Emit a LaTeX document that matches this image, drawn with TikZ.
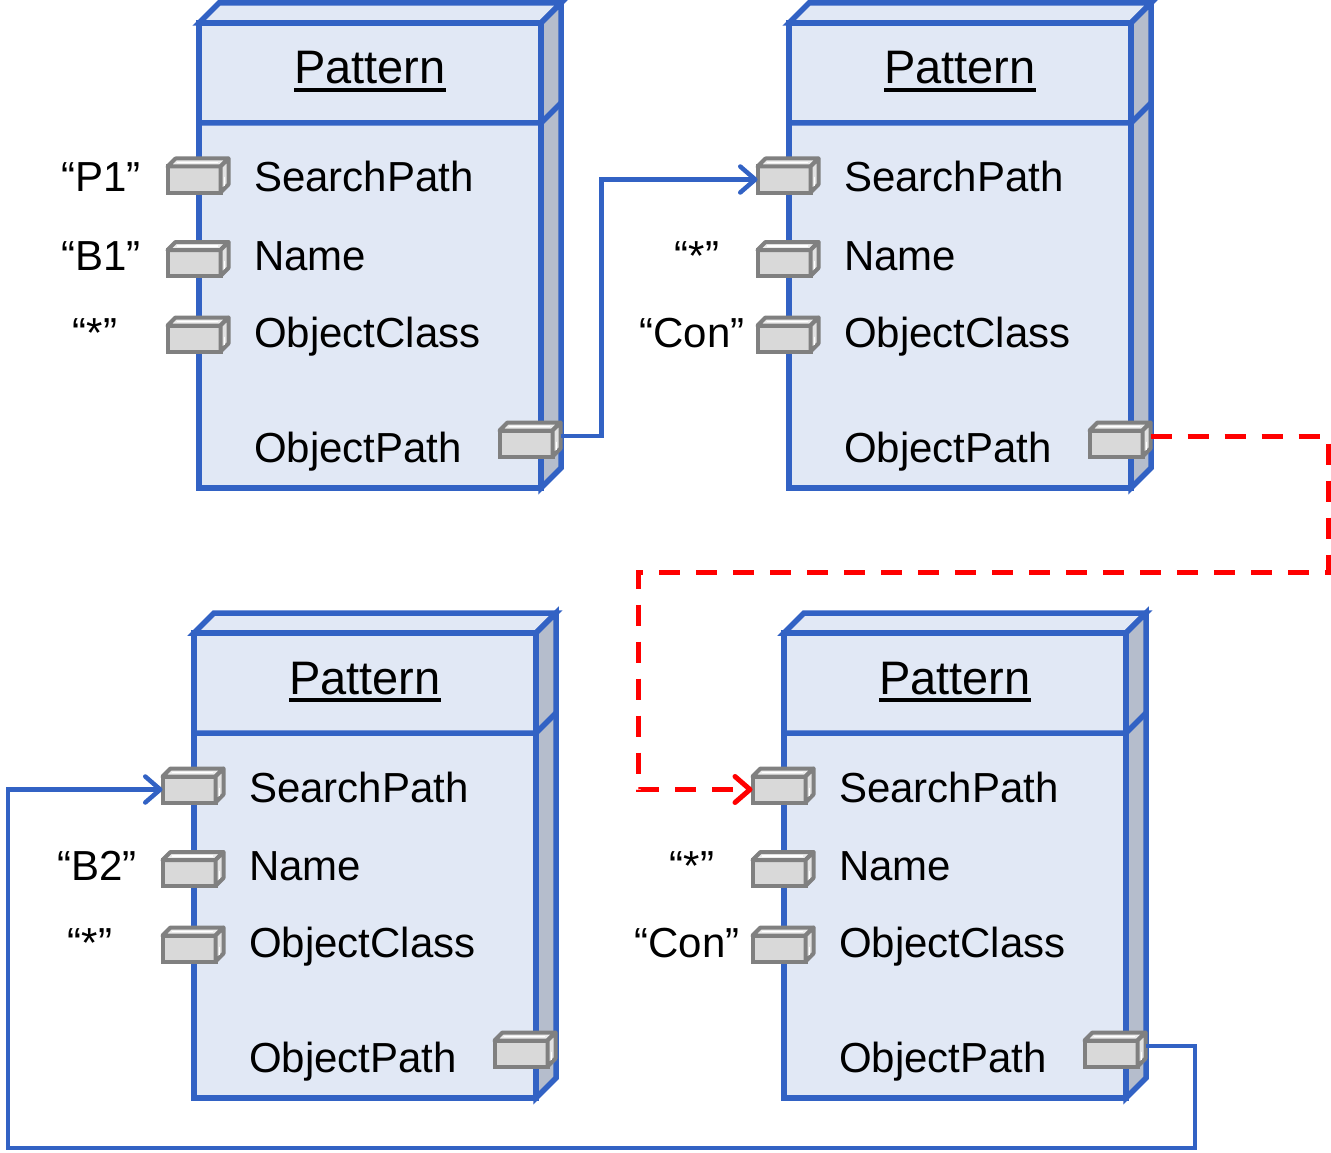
\documentclass[tikz,border=0pt]{standalone}
\usepackage{fontspec}
\setmainfont{Liberation Sans}
\usetikzlibrary{arrows.meta,calc}

\definecolor{boxblue}{RGB}{50,98,196}
\definecolor{boxface}{RGB}{225,232,245}
\definecolor{boxside}{RGB}{181,189,204}
\definecolor{portline}{RGB}{128,128,128}
\definecolor{portfill}{RGB}{217,217,217}
\definecolor{porttop}{RGB}{236,236,236}
\definecolor{portside}{RGB}{226,226,226}
\definecolor{linkred}{RGB}{255,0,0}

\tikzset{
  boxedge/.style={draw=boxblue, line width=5.5pt, line join=miter},
  port/.style={rectangle, draw=portline, fill=portfill, line width=4pt,
    minimum width=53pt, minimum height=26pt, inner sep=0pt, outer sep=0pt},
  portedge/.style={draw=portline, line width=4pt, line join=round},
  porthi/.style={draw=white, line width=1.5pt},
  attr/.style={font=\fontsize{42}{48}\selectfont, inner sep=0pt, anchor=base west},
  val/.style={font=\fontsize{42}{48}\selectfont, inner sep=0pt, anchor=base},
  patterntitle/.style={font=\fontsize{47}{54}\selectfont, inner sep=0pt, anchor=base},
  link/.style={draw=boxblue, line width=4.5pt,
    -{Straight Barb[length=15pt,width=26pt,round]}},
  dashlink/.style={draw=linkred, line width=5pt, dash pattern=on 21pt off 16pt,
    -{Straight Barb[length=15pt,width=26pt,round]}},
}

% a small 3D port box: #1 name, #2 centre of its front face
\newcommand\drawport[2]{%
  \node[port] (#1) at #2 {};
  \filldraw[portedge, fill=porttop] (#1.north west)
    -- ([xshift=8pt,yshift=8pt]#1.north west)
    -- ([xshift=8pt,yshift=8pt]#1.north east)
    -- (#1.north east) -- cycle;
  \filldraw[portedge, fill=portside] (#1.north east)
    -- ([xshift=8pt,yshift=8pt]#1.north east)
    -- ([xshift=8pt,yshift=8pt]#1.south east)
    -- (#1.south east) -- cycle;
  \draw[porthi] ([xshift=9pt,yshift=4pt]#1.north west) -- ([xshift=-3pt,yshift=4pt]#1.north east);
  \draw[porthi] ([xshift=4pt,yshift=2pt]#1.east) -- ([xshift=4pt,yshift=-6pt]#1.east);
}

% a 3D "Pattern" block with its four ports: #1 name, #2 top-left of the front face
\newcommand\patternbox[2]{%
  \begin{scope}[shift={#2}]
    \filldraw[boxedge, fill=boxface] (0,0) -- (20,-20) -- (362,-20) -- (342,0) -- cycle;
    \filldraw[boxedge, fill=boxside] (342,0) -- (362,-20) -- (362,445) -- (342,465) -- cycle;
    \node[boxedge, fill=boxface, rectangle, minimum width=342pt, minimum height=465pt,
      inner sep=0pt, outer sep=0pt, anchor=north west] (#1) at (0,0) {};
    \draw[boxedge] (0,100) -- (342,100) -- (362,80);
    \node[patterntitle] (#1-title) at (171,61) {Pattern};
    \draw[line width=3.2pt] ([yshift=-6pt]#1-title.base west) -- ([yshift=-6pt]#1-title.base east);
    \node[attr] (#1-sp-text) at (55,169) {SearchPath};
    \node[attr] (#1-nm-text) at (55,247) {Name};
    \node[attr] (#1-oc-text) at (55,324) {ObjectClass};
    \node[attr] (#1-op-text) at (55,439) {ObjectPath};
    \drawport{#1-sp}{(-5,156.5)}
    \drawport{#1-nm}{(-5,240)}
    \drawport{#1-oc}{(-5,315.5)}
    \drawport{#1-op}{(327,420.5)}
    \coordinate (#1-op-out) at ([xshift=8pt,yshift=7.5pt]#1-op.east);
  \end{scope}
}

\begin{document}
\begin{tikzpicture}[x=1pt, y=-1pt]
  \useasboundingbox (0,0) rectangle (1331,1153);

  \patternbox{b1}{(199,23)}
  \patternbox{b2}{(789,23)}
  \patternbox{b3}{(194,633)}
  \patternbox{b4}{(784,633)}

  % bound values
  \node[val] (b1-sp-val) at (101,192) {“P1”};
  \node[val] (b1-nm-val) at (101,270) {“B1”};
  \node[val] (b1-oc-val) at (95,347) {“*”};
  \node[val] (b2-nm-val) at (697,270) {“*”};
  \node[val] (b2-oc-val) at (692,347) {“Con”};
  \node[val] (b3-nm-val) at (97,880) {“B2”};
  \node[val] (b3-oc-val) at (90,957) {“*”};
  \node[val] (b4-nm-val) at (692,880) {“*”};
  \node[val] (b4-oc-val) at (687,957) {“Con”};

  % connections between patterns
  \draw[link] (b1-op-out) -- ++(41,0) |- (b2-sp.west);

  \coordinate (redA) at (1328,572);
  \coordinate (redB) at (638,572);
  \draw[dashlink] (b2-op-out) -| (redA) -- (redB) |- (b4-sp.west);

  \coordinate (retA) at (1195,1148);
  \coordinate (retB) at (8,1148);
  \draw[link] (b4-op-out) -| (retA) -- (retB) |- (b3-sp.west);
\end{tikzpicture}
\end{document}
